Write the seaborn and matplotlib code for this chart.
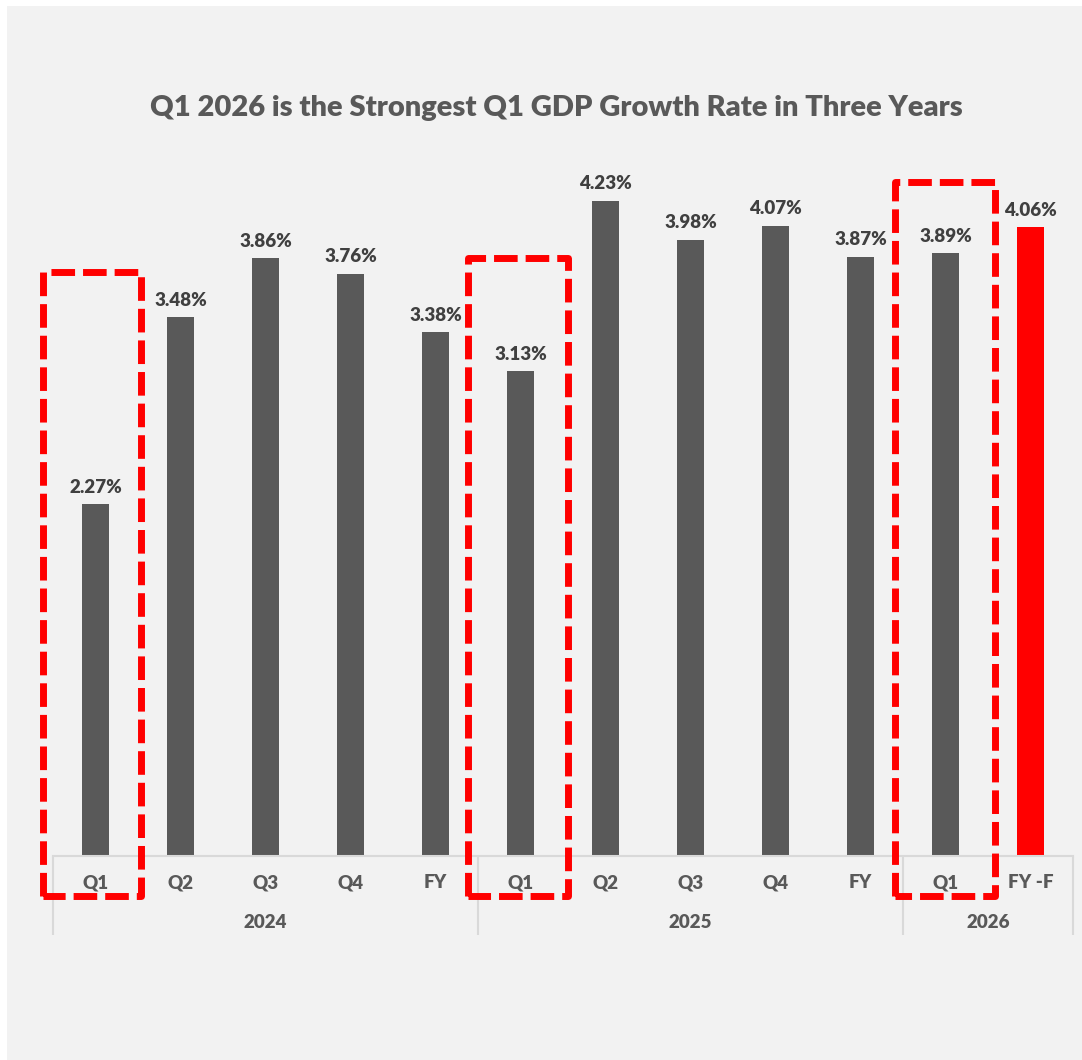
import matplotlib
matplotlib.use("Agg")
import matplotlib.pyplot as plt
import matplotlib.patches as mpatches
import matplotlib.transforms as mtransforms
import seaborn as sns
import pandas as pd

# GDP growth by period
years = ["2024", "2025", "2026"]
periods = ["Q1", "Q2", "Q3", "Q4", "FY", "Q1", "Q2", "Q3", "Q4", "FY", "Q1", "FY -F"]
period_year = ["2024"] * 5 + ["2025"] * 5 + ["2026"] * 2
growth = [2.27, 3.48, 3.86, 3.76, 3.38, 3.13, 4.23, 3.98, 4.07, 3.87, 3.89, 4.06]
title = "Q1 2026 is the Strongest Q1 GDP Growth Rate in Three Years"

BG = "#f2f2f2"
BAR = "#595959"
RED = "#ff0000"
LABEL = "#404040"
TICK = "#595959"
GRID = "#d9d9d9"

sns.set_theme(style="white")
plt.rcParams["font.family"] = ["Lato", "DejaVu Sans"]

df = pd.DataFrame({
    "pos": [str(i) for i in range(len(growth))],
    "period": periods,
    "year": period_year,
    "growth": growth,
})
palette = {p: (RED if i == len(growth) - 1 else BAR) for i, p in enumerate(df["pos"])}

W, H = 1082, 1060
fig = plt.figure(figsize=(W / 100, H / 100), dpi=100, facecolor="white")
# light panel behind everything
fig.patches.append(mpatches.Rectangle((7 / W, 0), 1 - 7 / W, 1 - 6 / H,
                                      transform=fig.transFigure, facecolor=BG,
                                      edgecolor="none", zorder=-10))

ax_left, ax_right = 53 / W, 1073 / W
ax_bottom, ax_top = (H - 856) / H, (H - 159) / H
ax = fig.add_axes([ax_left, ax_bottom, ax_right - ax_left, ax_top - ax_bottom])
ax.set_facecolor("none")

sns.barplot(data=df, x="pos", y="growth", hue="pos", palette=palette,
            legend=False, width=0.32, saturation=1, linewidth=0, ax=ax)
ax.set_ylim(0, 4.5)
ax.set_xlim(-0.5, len(growth) - 0.5)
for s in ["left", "right", "top"]:
    ax.spines[s].set_visible(False)
ax.spines["bottom"].set_color(GRID)
ax.spines["bottom"].set_linewidth(1.5)
ax.set_xticks([])
ax.set_yticks([])
ax.set_xlabel("")
ax.set_ylabel("")

for cont in ax.containers:
    ax.bar_label(cont, labels=[f"{v:.2f}%" for v in cont.datavalues],
                 padding=6, fontsize=13.5, fontweight="heavy", color=LABEL)

# two-level category axis
trans = mtransforms.blended_transform_factory(ax.transData, ax.transAxes)
axh = (856 - 159)
def yfrac(px_below):
    return -px_below / axh

for i, p in enumerate(periods):
    ax.text(i, yfrac(27), p, transform=trans, ha="center", va="center",
            fontsize=13.5, fontweight="heavy", color=TICK)

bounds = []
start = 0
for y in years:
    n = period_year.count(y)
    bounds.append((start, start + n))
    start += n
for (a, b), y in zip(bounds, years):
    ax.text((a + b - 1) / 2, yfrac(66), y, transform=trans, ha="center",
            va="center", fontsize=13.5, fontweight="heavy", color=TICK)
edges = sorted({a for a, _ in bounds} | {b for _, b in bounds})
for e in edges:
    ax.plot([e - 0.5, e - 0.5], [0, yfrac(79)], transform=trans, color=GRID,
            lw=1.5, clip_on=False, solid_capstyle="butt")

# dashed highlight frames around each Q1
frames = [(-0.62, 0.53, 3.77), (4.38, 5.56, 3.86), (9.41, 10.58, 4.35)]
for x0, x1, ytop in frames:
    ybot = -40 / axh * 4.5
    xs = [x0, x0, x1, x1, x0]
    ys = [ybot, ytop, ytop, ybot, ybot]
    ax.plot(xs, ys, color=RED, lw=5.0, clip_on=False,
            linestyle=(0, (3.4, 1.15)), solid_joinstyle="round",
            dash_joinstyle="round", dash_capstyle="butt", zorder=5)

fig.text(556 / W, 1 - 108 / H, title, ha="center", va="center",
         fontsize=21, fontweight="heavy", color=BAR)

fig.savefig("out.png", dpi=100, facecolor="white")
